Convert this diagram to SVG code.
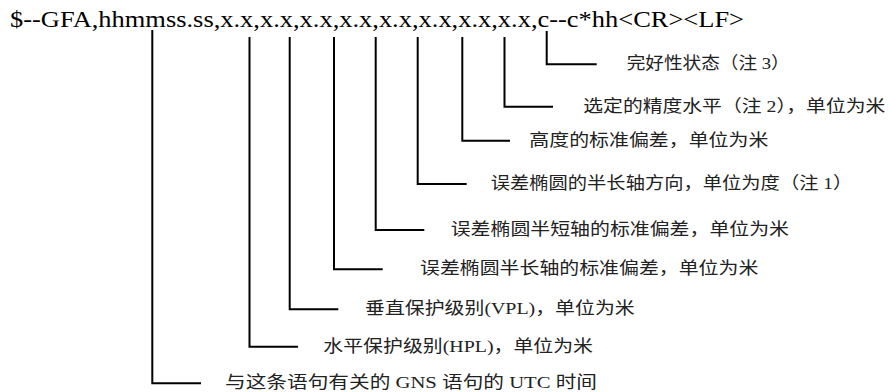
<svg xmlns="http://www.w3.org/2000/svg" width="889" height="392" viewBox="0 0 889 392">
<style>
.hdr{font-family:"Liberation Serif","Noto Sans CJK SC",serif;font-size:22.2px;fill:#000}
.lbl{font-family:"Liberation Serif","Noto Sans CJK SC",serif;font-size:17px;fill:#222}
.ln{fill:none;stroke:#000;stroke-width:2}
</style>
<rect width="889" height="392" fill="#fff"/>
<g id="header">
<text class="hdr" x="10" y="27.3" textLength="734" lengthAdjust="spacingAndGlyphs">$--GFA,hhmmss.ss,x.x,x.x,x.x,x.x,x.x,x.x,x.x,x.x,c--c*hh&lt;CR&gt;&lt;LF&gt;</text>
</g>
<g id="connectors">
<polyline class="ln" points="152.3,30 152.3,383.3 201,383.3"/>
<polyline class="ln" points="249.5,37 249.5,346.7 298,346.7"/>
<polyline class="ln" points="289.7,37 289.7,309.3 338.3,309.3"/>
<polyline class="ln" points="334,37 334,269.3 382.7,269.3"/>
<polyline class="ln" points="375.7,37 375.7,230 424.3,230"/>
<polyline class="ln" points="417.7,37 417.7,184 466.7,184"/>
<polyline class="ln" points="462.3,37 462.3,140.7 510,140.7"/>
<polyline class="ln" points="504.5,37 504.5,106.7 553,106.7"/>
<polyline class="ln" points="546.7,31 546.7,64.3 596.7,64.3"/>
</g>
<g id="n-integrity"><text class="lbl" x="626.7" y="69.3" textLength="163" lengthAdjust="spacingAndGlyphs">完好性状态（注 3）</text></g>
<g id="n-accuracy"><text class="lbl" x="583.3" y="111.7" textLength="302" lengthAdjust="spacingAndGlyphs">选定的精度水平（注 2），单位为米</text></g>
<g id="n-altitude"><text class="lbl" x="529.3" y="145.7" textLength="239" lengthAdjust="spacingAndGlyphs">高度的标准偏差，单位为米</text></g>
<g id="n-orient"><text class="lbl" x="490.7" y="189" textLength="361.5" lengthAdjust="spacingAndGlyphs">误差椭圆的半长轴方向，单位为度（注 1）</text></g>
<g id="n-minor"><text class="lbl" x="450.7" y="235" textLength="338.3" lengthAdjust="spacingAndGlyphs">误差椭圆半短轴的标准偏差，单位为米</text></g>
<g id="n-major"><text class="lbl" x="420" y="274.3" textLength="338.3" lengthAdjust="spacingAndGlyphs">误差椭圆半长轴的标准偏差，单位为米</text></g>
<g id="n-vpl"><text class="lbl" x="365" y="314.3" textLength="269.7" lengthAdjust="spacingAndGlyphs">垂直保护级别(VPL)，单位为米</text></g>
<g id="n-hpl"><text class="lbl" x="323.3" y="351.7" textLength="269.7" lengthAdjust="spacingAndGlyphs">水平保护级别(HPL)，单位为米</text></g>
<g id="n-utc"><text class="lbl" x="225" y="388.3" textLength="372" lengthAdjust="spacingAndGlyphs">与这条语句有关的 GNS 语句的 UTC 时间</text></g>
</svg>
